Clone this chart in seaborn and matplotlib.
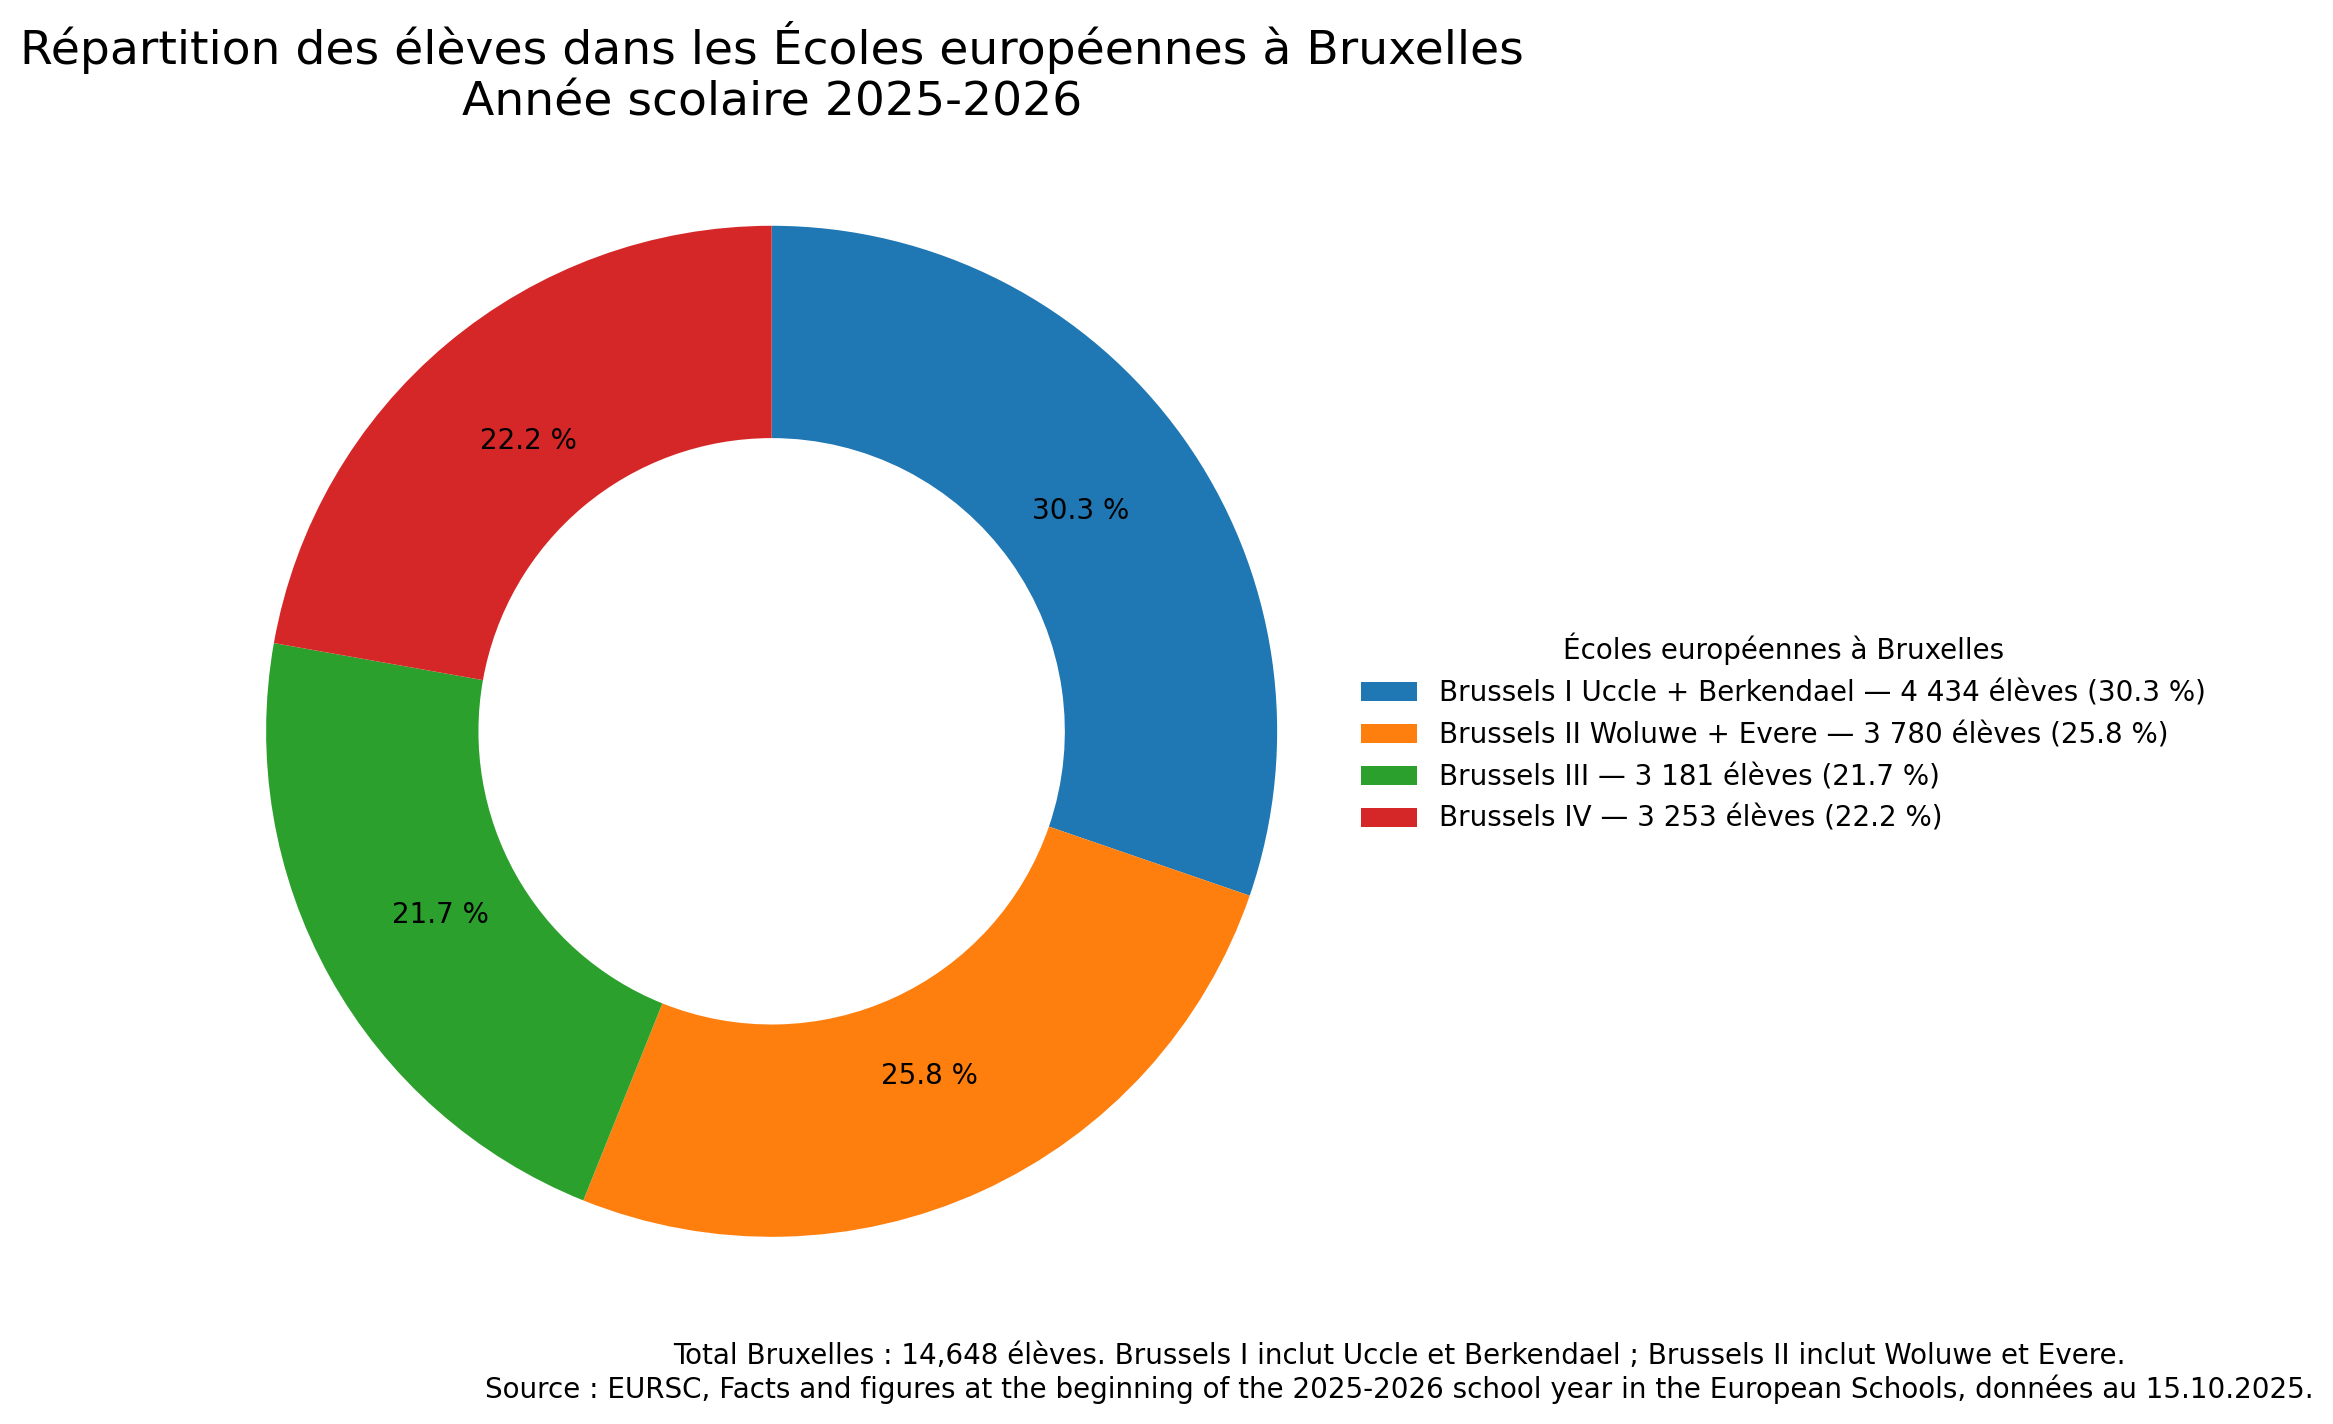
import matplotlib
matplotlib.use("Agg")
import matplotlib.pyplot as plt
import seaborn as sns

# effectifs au 15.10.2025
schools = ["Brussels I Uccle + Berkendael", "Brussels II Woluwe + Evere",
           "Brussels III", "Brussels IV"]
students = [4434, 3780, 3181, 3253]


def fmt_int(n):
    # séparateur de milliers en espace, à la française
    return f"{n:,}".replace(",", " ")


def main():
    total = sum(students)
    shares = [100 * s / total for s in students]
    labels = [f"{name} — {fmt_int(n)} élèves ({p:.1f} %)"
              for name, n, p in zip(schools, students, shares)]
    colors = sns.color_palette("tab10", len(schools))

    fig = plt.figure(figsize=(2333 / 200, 1424 / 200), dpi=200)
    # pie limits are +-1.25, so axes side = 2.5 * radius in pixels
    ax = fig.add_axes([0.0599, 0.0427, 0.5417, 0.8875])

    wedges, _, autotexts = ax.pie(
        students, colors=colors, startangle=90, counterclock=False,
        autopct="%.1f %%", pctdistance=0.75,
        wedgeprops=dict(width=0.42),
        textprops=dict(fontsize=10, color="black"))
    ax.set_aspect("equal")

    fig.legend(wedges, labels, title="Écoles européennes à Bruxelles",
               loc="center left", bbox_to_anchor=(0.5787, 0.4853),
               borderaxespad=0, frameon=False, fontsize=10, title_fontsize=10)

    # va="baseline" -> baseline of the last line
    fig.suptitle("Répartition des élèves dans les Écoles européennes à Bruxelles\n"
                 "Année scolaire 2025-2026",
                 x=0.3308, y=0.9187, va="baseline", fontsize=17)

    fig.text(0.5997, 0.0180,
             f"Total Bruxelles : {total:,} élèves. Brussels I inclut Uccle et Berkendael ; "
             "Brussels II inclut Woluwe et Evere.\n"
             "Source : EURSC, Facts and figures at the beginning of the 2025-2026 school "
             "year in the European Schools, données au 15.10.2025.",
             ha="center", va="baseline", multialignment="center", fontsize=10)

    fig.savefig("out.png", dpi=200)


if __name__ == "__main__":
    main()
